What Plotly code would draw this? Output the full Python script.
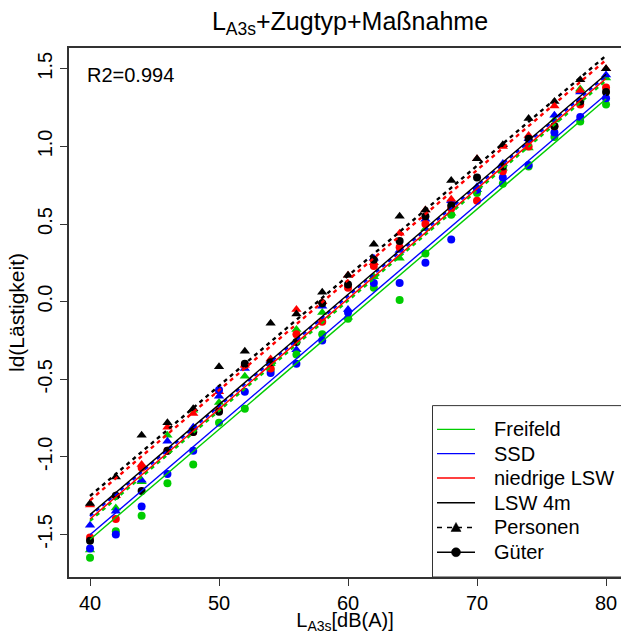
import plotly.graph_objects as go

# ---------------- data ----------------
x_levels = [40, 42, 44, 46, 48, 50, 52, 54, 56, 58, 60, 62, 64, 66, 68, 70, 72, 74, 76, 78, 80]

# Personen (triangles)
lsw4m_personen = [-1.30, -1.13, -0.86, -0.78, -0.69, -0.42, -0.32, -0.14, -0.08, 0.06, 0.17,
                  0.37, 0.55, 0.59, 0.78, 0.92, 1.01, 1.18, 1.29, 1.43, 1.50]
niedrig_personen = [-1.31, -1.25, -1.05, -0.81, -0.72, -0.58, -0.41, -0.37, -0.05, 0.00, 0.17,
                    0.25, 0.44, 0.59, 0.66, 0.92, 1.00, 1.07, 1.26, 1.36, 1.50]
ssd_personen = [-1.44, -1.35, -1.15, -0.90, -0.81, -0.61, -0.43, -0.38, -0.31, -0.03, -0.05,
                0.28, 0.33, 0.53, 0.65, 0.74, 0.89, 1.05, 1.20, 1.35, 1.46]
freifeld_personen = [-1.60, -1.33, -1.16, -0.86, -0.70, -0.65, -0.48, -0.40, -0.18, -0.07, -0.10,
                     0.16, 0.28, 0.47, 0.57, 0.72, 0.86, 0.99, 1.17, 1.37, 1.44]

# Gueter (circles)
lsw4m_gueter = [-1.54, -1.25, -1.22, -0.96, -0.84, -0.71, -0.40, -0.39, -0.26, -0.01, 0.11,
                0.27, 0.39, 0.55, 0.62, 0.80, 0.87, 1.05, 1.13, 1.29, 1.35]
niedrig_gueter = [-1.52, -1.40, -1.07, -0.96, -0.84, -0.70, -0.41, -0.43, -0.21, -0.13, 0.09,
                  0.23, 0.35, 0.50, 0.60, 0.65, 0.84, 1.00, 1.13, 1.27, 1.38]
ssd_gueter = [-1.59, -1.50, -1.32, -1.11, -0.96, -0.57, -0.58, -0.46, -0.40, -0.25, -0.07,
              0.12, 0.12, 0.25, 0.40, 0.72, 0.80, 0.88, 1.09, 1.19, 1.31]
freifeld_gueter = [-1.65, -1.48, -1.38, -1.17, -1.05, -0.78, -0.69, -0.44, -0.34, -0.21, -0.11,
                   0.09, 0.01, 0.31, 0.56, 0.70, 0.76, 0.87, 1.06, 1.16, 1.27]

# fitted model lines (value at L=40 and L=80)
fit_x = [40, 80]
fit_lsw4m_personen = [-1.252, 1.585]
fit_niedrig_personen = [-1.280, 1.557]
fit_ssd_personen = [-1.382, 1.455]
fit_freifeld_personen = [-1.412, 1.425]
fit_lsw4m_gueter = [-1.372, 1.465]
fit_niedrig_gueter = [-1.400, 1.437]
fit_ssd_gueter = [-1.502, 1.335]
fit_freifeld_gueter = [-1.532, 1.305]

measure_names = ["Freifeld", "SSD", "niedrige LSW", "LSW 4m"]
train_names = ["Personen", "Güter"]
y_ticks = [-1.5, -1.0, -0.5, 0.0, 0.5, 1.0, 1.5]
x_ticks = [40, 50, 60, 70, 80]
r2_text = "R2=0.994"

# ---------------- styling ----------------
GREEN = "#00CD00"
BLUE = "#0000FF"
RED = "#FF0000"
BLACK = "#000000"
FRAME = "#333333"
FONT = "Liberation Sans, Arial, sans-serif"

groups = [
    (freifeld_personen, fit_freifeld_personen, GREEN, "triangle-up", "dash"),
    (ssd_personen, fit_ssd_personen, BLUE, "triangle-up", "dash"),
    (niedrig_personen, fit_niedrig_personen, RED, "triangle-up", "dash"),
    (lsw4m_personen, fit_lsw4m_personen, BLACK, "triangle-up", "dash"),
    (freifeld_gueter, fit_freifeld_gueter, GREEN, "circle", "solid"),
    (ssd_gueter, fit_ssd_gueter, BLUE, "circle", "solid"),
    (niedrig_gueter, fit_niedrig_gueter, RED, "circle", "solid"),
    (lsw4m_gueter, fit_lsw4m_gueter, BLACK, "circle", "solid"),
]

fig = go.Figure()

for vals, fit, col, sym, dash in groups:
    fig.add_trace(go.Scatter(
        x=x_levels, y=vals, mode="markers",
        marker=dict(symbol=sym, color=col, size=8 if sym == "circle" else 9,
                    line=dict(width=0)),
        showlegend=False, hoverinfo="skip"))

for vals, fit, col, sym, dash in groups:
    fig.add_trace(go.Scatter(
        x=fit_x, y=fit, mode="lines",
        line=dict(color=col, width=2.4 if dash == "dash" else 1.4,
                  dash="4px,4px" if dash == "dash" else "solid"),
        showlegend=False, hoverinfo="skip"))

# ---------------- custom legend (paper coordinates) ----------------
PL, PR, PT, PB = 69, 621, 48, 582   # plot area pixels


def px(xp):
    return (xp - PL) / (PR - PL)


def py(yp):
    return (PB - yp) / (PB - PT)


shapes = []
annotations = []
shapes.append(dict(type="rect", xref="paper", yref="paper", x0=px(432.5), x1=1.05,
                   y0=0, y1=py(409), line=dict(color=FRAME, width=1), fillcolor="white",
                   layer="above"))
row_y = [433, 457.5, 482, 507, 532, 557]
legend_cols = [GREEN, BLUE, RED, BLACK]
for i, name in enumerate(measure_names):
    shapes.append(dict(type="line", xref="paper", yref="paper", x0=px(437), x1=px(475),
                       y0=py(row_y[i]), y1=py(row_y[i]),
                       line=dict(color=legend_cols[i], width=1.4), layer="above"))
# Personen: dashed line with triangle
shapes.append(dict(type="line", xref="paper", yref="paper", x0=px(437), x1=px(475),
                   y0=py(row_y[4]), y1=py(row_y[4]),
                   line=dict(color=BLACK, width=1.4, dash="5px,5px"), layer="above"))
shapes.append(dict(type="path", xref="paper", yref="paper", xsizemode="pixel",
                   ysizemode="pixel", xanchor=px(456), yanchor=py(row_y[4]),
                   path="M -5,-4 L 5,-4 L 0,5 Z", fillcolor=BLACK,
                   line=dict(color=BLACK, width=0.5), layer="above"))
# Gueter: solid line with circle
shapes.append(dict(type="line", xref="paper", yref="paper", x0=px(437), x1=px(475),
                   y0=py(row_y[5]), y1=py(row_y[5]),
                   line=dict(color=BLACK, width=1.4), layer="above"))
shapes.append(dict(type="circle", xref="paper", yref="paper", xsizemode="pixel",
                   ysizemode="pixel", xanchor=px(456), yanchor=py(row_y[5]),
                   x0=-4.5, x1=4.5, y0=-4.5, y1=4.5, fillcolor=BLACK,
                   line=dict(color=BLACK, width=0.5), layer="above"))

for i, name in enumerate(measure_names + train_names):
    annotations.append(dict(text=name, xref="paper", yref="paper", x=px(492),
                            y=py(row_y[i]), xanchor="left", yanchor="middle",
                            showarrow=False, font=dict(size=20, color="black", family=FONT)))

annotations.append(dict(text=r2_text, xref="paper", yref="paper", x=px(85), y=py(75),
                        xanchor="left", yanchor="middle", showarrow=False,
                        font=dict(size=20, color="black", family=FONT)))

fig.update_layout(
    width=621, height=634,
    margin=dict(l=PL, r=621 - PR, t=PT, b=634 - PB),
    paper_bgcolor="white", plot_bgcolor="white",
    font=dict(family=FONT, size=20, color="black"),
    title=dict(text="L<sub>A3s</sub>+Zugtyp+Maßnahme", x=350 / 621, xanchor="center",
               y=1 - 21 / 634, yanchor="middle", font=dict(size=25, family=FONT, color="black")),
    showlegend=False,
    shapes=shapes,
    annotations=annotations,
)

fig.update_xaxes(range=[38.37, 81.16], tickvals=x_ticks, ticktext=[str(v) for v in x_ticks],
                 showgrid=False, zeroline=False, showline=True, mirror=True,
                 linecolor=FRAME, linewidth=1.5, ticks="outside", ticklen=7,
                 tickcolor=FRAME, tickfont=dict(size=20),
                 title=dict(text="L<sub>A3s</sub>[dB(A)]", standoff=6, font=dict(size=20)))
fig.update_yaxes(range=[-1.774, 1.634], tickvals=y_ticks, ticktext=[f"{v:.1f}" for v in y_ticks],
                 tickangle=-90, showgrid=False, zeroline=False, showline=True, mirror=False,
                 linecolor=FRAME, linewidth=1.5, ticks="outside", ticklen=7,
                 tickcolor=FRAME, tickfont=dict(size=20),
                 title=dict(text="ld(Lästigkeit)", standoff=4, font=dict(size=21)))

fig.write_html("out.html")
